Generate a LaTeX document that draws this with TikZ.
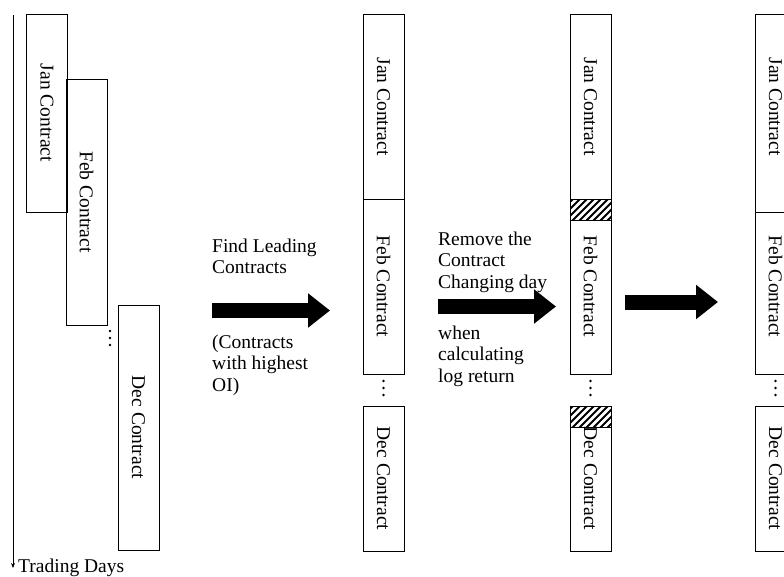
\documentclass[tikz,border=0pt]{standalone}
\usepackage{fontspec}
\setmainfont{Liberation Serif}
\usetikzlibrary{arrows.meta}
\begin{document}
\begin{tikzpicture}[x=1pt,y=-1pt,
  every node/.style={font=\fontsize{19.5}{21.5}\selectfont},
  box/.style={draw, line width=0.8pt, minimum width=41pt, inner sep=0pt},
  vtext/.style={rotate=-90, inner sep=0pt},
  lbl/.style={align=left, inner sep=0pt, anchor=base west},
  bigarrow/.style={line width=15pt, -{Triangle[length=22pt,width=33pt]}},
  hatchline/.style={line width=2pt},
  dot/.style={fill=black}]
\clip (0,0) rectangle (784,576);
% axis
\coordinate (ax0) at (13,15);
\coordinate (ax1) at (13,568);
\draw[line width=0.8pt, -{Stealth[length=5pt,width=4pt]}] (ax0) -- (ax1);
\node[lbl] (td) at (18,572) {Trading Days};
% column 1
\node[box, minimum height=198pt] (jan1) at (47,113) {};
\node[vtext] at (jan1.center) {Jan Contract};
\node[box, minimum height=246pt] (feb1) at (86.5,202) {};
\node[vtext] at (feb1.center) {Feb Contract};
\node[box, minimum height=245pt] (dec1) at (138.5,427.5) {};
\node[vtext] at (dec1.center) {Dec Contract};
\foreach \yy in {331,338,345} \fill[dot] (110,\yy) circle (1.3pt);
% arrow 1
\coordinate (a1s) at (212,310.5);
\coordinate (a1e) at (330,310.5);
\draw[bigarrow] (a1s) -- (a1e);
\node[lbl] (t1) at (212,273.5) {Find Leading\\Contracts};
\node[lbl] (t2) at (212,391) {(Contracts\\with highest\\OI)};
% column 2
\node[box, minimum height=185pt] (jan2) at (383.5,106.5) {};
\node[vtext] at (jan2.center) {Jan Contract};
\node[box, minimum height=175pt] (feb2) at (383.5,286.5) {};
\node[vtext] at (feb2.center) {Feb Contract};
\node[box, minimum height=145pt] (dec2) at (383.5,478.5) {};
\node[vtext] at (dec2.center) {Dec Contract};
\foreach \yy in {381,388,395} \fill[dot] (383.5,\yy) circle (1.3pt);
% arrow 2
\coordinate (a2s) at (438,306.5);
\coordinate (a2e) at (556,306.5);
\draw[bigarrow] (a2s) -- (a2e);
\node[lbl] (t3) at (438,288) {Remove the\\Contract\\Changing day};
\node[lbl] (t4) at (438,382) {when\\calculating\\log return};
% column 3
\node[box, minimum height=185pt] (jan3) at (590.5,106.5) {};
\node[vtext] at (jan3.center) {Jan Contract};
\node[box, minimum height=175pt] (feb3) at (590.5,286.5) {};
\node[vtext] at (feb3.center) {Feb Contract};
\node[box, minimum height=145pt] (dec3) at (590.5,478.5) {};
\node[vtext] at (dec3.center) {Dec Contract};
\foreach \yy in {381,388,395} \fill[dot] (590.5,\yy) circle (1.3pt);
\begin{scope}
  \clip (570,199) rectangle (611,220);
  \foreach \k in {0,...,10} \draw[hatchline] (548+7*\k,224) -- ++(28,-28);
\end{scope}
\draw[line width=0.8pt] (570,199) rectangle (611,220);
\begin{scope}
  \clip (570,406) rectangle (611,427);
  \foreach \k in {0,...,10} \draw[hatchline] (548+7*\k,431) -- ++(28,-28);
\end{scope}
\draw[line width=0.8pt] (570,406) rectangle (611,427);
% arrow 3
\coordinate (a3s) at (625,302);
\coordinate (a3e) at (718,302);
\draw[bigarrow] (a3s) -- (a3e);
% column 4
\node[box, minimum height=198pt] (jan4) at (775.5,113) {};
\node[vtext] at (775.5,106.5) {Jan Contract};
\node[box, minimum height=162pt] (feb4) at (775.5,293) {};
\node[vtext] at (775.5,286.5) {Feb Contract};
\node[box, minimum height=145pt] (dec4) at (775.5,478.5) {};
\node[vtext] at (dec4.center) {Dec Contract};
\foreach \yy in {381,388,395} \fill[dot] (775.5,\yy) circle (1.3pt);
\end{tikzpicture}
\end{document}
